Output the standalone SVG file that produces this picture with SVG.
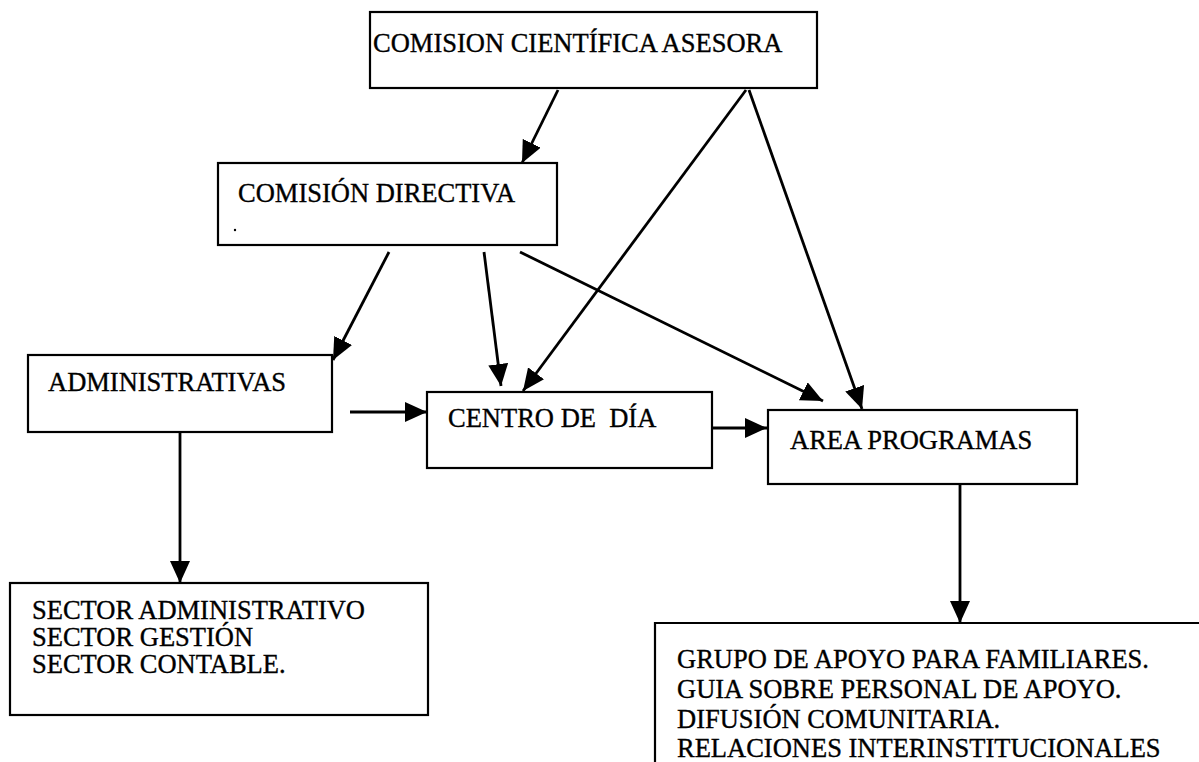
<svg xmlns="http://www.w3.org/2000/svg" width="1199" height="762" viewBox="0 0 1199 762">
<style>
  .box { fill: #fff; stroke: #000; stroke-width: 2.2; }
  .t { font-family: "Liberation Serif", "Times New Roman", serif; font-size: 26.5px; fill: #000; stroke: #000; stroke-width: 0.35; white-space: pre; }
  .c { stroke: #000; stroke-width: 2.8; fill: none; marker-end: url(#ah); }
</style>
<defs>
  <marker id="ah" markerUnits="userSpaceOnUse" markerWidth="22" markerHeight="20" refX="22" refY="10" orient="auto" viewBox="0 0 22 20">
    <path d="M0,0 L22,10 L0,20 z" fill="#000"/>
  </marker>
</defs>
<rect width="1199" height="762" fill="#fff"/>

<g id="n-cca">
  <rect class="box" x="370" y="12" width="447" height="76"/>
  <text class="t" x="373" y="52">COMISION CIENTÍFICA ASESORA</text>
</g>
<g id="n-cd">
  <rect class="box" x="218" y="163" width="339" height="82"/>
  <text class="t" x="238" y="202">COMISIÓN DIRECTIVA</text>
  <circle cx="235" cy="230" r="1.2" fill="#000"/>
</g>
<g id="n-admin">
  <rect class="box" x="28" y="355" width="304" height="77"/>
  <text class="t" x="48" y="391">ADMINISTRATIVAS</text>
</g>
<g id="n-centro">
  <rect class="box" x="427" y="392" width="285" height="76"/>
  <text class="t" x="448" y="427" xml:space="preserve">CENTRO DE  DÍA</text>
</g>
<g id="n-area">
  <rect class="box" x="768" y="410" width="309" height="74"/>
  <text class="t" x="790" y="449">AREA PROGRAMAS</text>
</g>
<g id="n-sector">
  <rect class="box" x="10" y="583" width="418" height="132"/>
  <text class="t" x="32" y="619">SECTOR ADMINISTRATIVO</text>
  <text class="t" x="32" y="646">SECTOR GESTIÓN</text>
  <text class="t" x="32" y="673">SECTOR CONTABLE.</text>
</g>
<g id="n-grupo">
  <path d="M1199,623 H655 V762" fill="none" stroke="#000" stroke-width="2.2"/>
  <text class="t" x="677" y="668">GRUPO DE APOYO PARA FAMILIARES.</text>
  <text class="t" x="677" y="698">GUIA SOBRE PERSONAL DE APOYO.</text>
  <text class="t" x="677" y="728">DIFUSIÓN COMUNITARIA.</text>
  <text class="t" x="677" y="757">RELACIONES INTERINSTITUCIONALES</text>
</g>

<g id="connectors">
  <line class="c" x1="558" y1="90" x2="522" y2="163"/>
  <line class="c" x1="746" y1="90" x2="523" y2="391"/>
  <line class="c" x1="749" y1="90" x2="862" y2="409"/>
  <line class="c" x1="389" y1="252" x2="333" y2="360"/>
  <line class="c" x1="484" y1="252" x2="501" y2="386"/>
  <line class="c" x1="520" y1="252" x2="823" y2="401"/>
  <line class="c" x1="350" y1="412" x2="427" y2="412"/>
  <line class="c" x1="713" y1="428" x2="767" y2="428"/>
  <line class="c" x1="180" y1="432" x2="180" y2="583"/>
  <line class="c" x1="960" y1="484" x2="960" y2="623"/>
</g>
</svg>
